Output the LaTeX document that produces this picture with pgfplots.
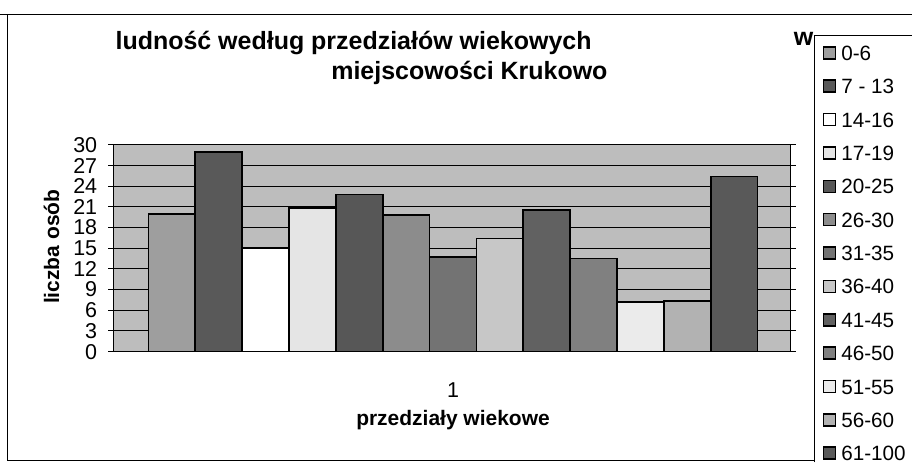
\documentclass[border=0pt]{standalone}
\usepackage{fontspec}
\setmainfont{Liberation Sans}
\usepackage{pgfplots}
\pgfplotsset{compat=1.18}
\begin{document}
\begin{tikzpicture}[x=1pt,y=1pt]
\path (0,0) rectangle (912,463);
\draw[line width=1pt] (7,448) -- (7,1.5) -- (815,1.5);
\draw[line width=1pt] (0,448) -- (912,448);
\node[anchor=base west, font=\fontsize{25}{26}\selectfont\bfseries, inner sep=0pt] at (115,413) {ludność według przedziałów wiekowych};
\node[anchor=base west, font=\fontsize{25}{26}\selectfont\bfseries, inner sep=0pt] at (331,383) {miejscowości Krukowo};
\node[anchor=base east, font=\fontsize{25}{26}\selectfont\bfseries, inner sep=0pt] at (814,417) {w};
\begin{axis}[
  at={(113pt,111pt)}, anchor=origin,
  scale only axis, width=678pt, height=207pt,
  xmin=0, xmax=678, ymin=0, ymax=30,
  ybar=0pt, bar width=46.9pt,
  xtick={340}, xticklabels={1},
  ytick={0,3,...,30},
  tick align=outside, major tick length=5pt,
  xtick style={draw=none},
  ytick style={black, line width=1pt},
  /pgf/number format/assume math mode=true,
  yticklabel style={font=\fontsize{21.5}{22}\selectfont, inner sep=0pt, xshift=-11pt},
  xticklabel style={font=\fontsize{21.5}{22}\selectfont, inner sep=0pt, yshift=-26pt},
  axis line style={black, line width=1.3pt},
  axis background/.style={fill=black!26},
  ymajorgrids, major grid style={black, line width=1.1pt},
  xlabel={przedziały wiekowe},
  ylabel={liczba osób},
  label style={font=\fontsize{21}{23}\selectfont\bfseries},
  xlabel style={at={(axis description cs:0.5015,-0.3575)}, anchor=base},
  ylabel style={at={(axis description cs:-0.0914,0.507)}, anchor=center},
  every axis plot/.append style={draw=black, line width=1.8pt},
  legend style={at={(axis description cs:1.0472,1.482)}, anchor=north west,
    draw=none, fill=none, inner sep=0pt, row sep=18.4pt, column sep=5pt,
    font=\fontsize{20.7}{22}\selectfont,
    nodes={inner sep=0pt, text height=15pt, text depth=0pt}},
  legend cell align=left,
  legend image code/.code={\draw[#1, line width=1.5pt] (0pt,-6pt) rectangle (12pt,6pt);},
]
\addplot[fill=black!38] coordinates {(340,20)};
\addplot[fill=black!65] coordinates {(340,29)};
\addplot[fill=white] coordinates {(340,15)};
\addplot[fill=black!10] coordinates {(340,20.8)};
\addplot[fill=black!66] coordinates {(340,22.8)};
\addplot[fill=black!45] coordinates {(340,19.8)};
\addplot[fill=black!55] coordinates {(340,13.7)};
\addplot[fill=black!22] coordinates {(340,16.4)};
\addplot[fill=black!62] coordinates {(340,20.6)};
\addplot[fill=black!50] coordinates {(340,13.5)};
\addplot[fill=black!8] coordinates {(340,7.2)};
\addplot[fill=black!30] coordinates {(340,7.3)};
\addplot[fill=black!65] coordinates {(340,25.4)};
\legend{0-6, 7 - 13, 14-16, 17-19, 20-25, 26-30, 31-35, 36-40, 41-45, 46-50, 51-55, 56-60, 61-100}
\end{axis}
\draw[line width=0.8pt] (815,0) -- (815,428) -- (912,428);
\end{tikzpicture}
\end{document}
